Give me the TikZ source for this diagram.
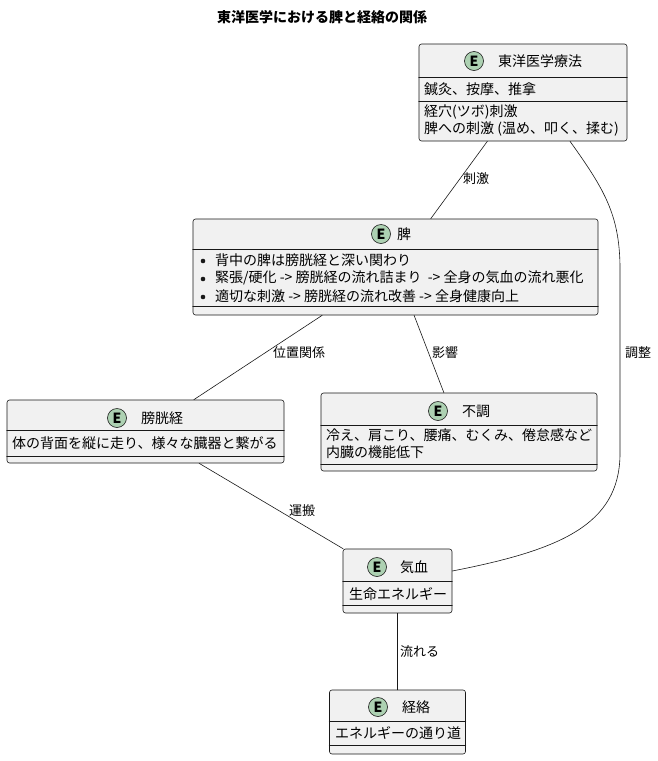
\documentclass[tikz,border=0pt]{standalone}
\usepackage{fontspec}
\setmainfont{Noto Sans CJK JP}
\usetikzlibrary{calc}

\definecolor{boxfill}{HTML}{F1F1F1}
\definecolor{boxline}{HTML}{181818}
\definecolor{ecolor}{HTML}{ADD1B2}

\tikzset{
  ent/.style={draw=boxline,fill=boxfill,rounded corners=2.5pt,line width=0.6pt,inner sep=0pt},
  ecirc/.style={circle,draw=boxline,fill=ecolor,line width=0.6pt,minimum size=19pt,inner sep=0pt,font=\bfseries\fontsize{14}{14}\selectfont},
  ttl/.style={anchor=west,inner sep=0pt,font=\fontsize{14}{17}\selectfont},
  txt/.style={anchor=west,inner sep=0pt,align=left,font=\fontsize{14}{17}\selectfont},
  lbl/.style={anchor=west,inner sep=0pt,font=\fontsize{13}{15}\selectfont},
  rel/.style={draw=boxline,line width=0.6pt}
}

\begin{document}
\begin{tikzpicture}[line cap=round,line join=round,x=1pt,y=-1pt]
\useasboundingbox (0,0) rectangle (658,761);
\node[inner sep=0pt,font=\bfseries\fontsize{14}{14}\selectfont] (title) at (322,17) {東洋医学における脾と経絡の関係};

% entities
\node[ent,minimum width=208pt,minimum height=97pt] (ryoho) at (523,92.5) {};
\node[ent,minimum width=405pt,minimum height=96pt] (hi) at (395.5,267) {};
\node[ent,minimum width=277pt,minimum height=63pt] (bokokei) at (145.5,431.5) {};
\node[ent,minimum width=276pt,minimum height=78pt] (fucho) at (459,432) {};
\node[ent,minimum width=109pt,minimum height=64pt] (kiketsu) at (397.5,581) {};
\node[ent,minimum width=136pt,minimum height=64pt] (keiraku) at (397.5,722) {};

% separators
\draw[boxline,line width=0.6pt] (ryoho.west |- 0,77) -- (ryoho.east |- 0,77);
\draw[boxline,line width=0.6pt] (ryoho.west |- 0,101) -- (ryoho.east |- 0,101);
\draw[boxline,line width=0.6pt] (hi.west |- 0,249) -- (hi.east |- 0,249);
\draw[boxline,line width=0.6pt] (hi.west |- 0,306) -- (hi.east |- 0,306);
\draw[boxline,line width=0.6pt] (bokokei.west |- 0,430) -- (bokokei.east |- 0,430);
\draw[boxline,line width=0.6pt] (bokokei.west |- 0,456) -- (bokokei.east |- 0,456);
\draw[boxline,line width=0.6pt] (fucho.west |- 0,425) -- (fucho.east |- 0,425);
\draw[boxline,line width=0.6pt] (fucho.west |- 0,464) -- (fucho.east |- 0,464);
\draw[boxline,line width=0.6pt] (kiketsu.west |- 0,581) -- (kiketsu.east |- 0,581);
\draw[boxline,line width=0.6pt] (kiketsu.west |- 0,605) -- (kiketsu.east |- 0,605);
\draw[boxline,line width=0.6pt] (keiraku.west |- 0,721) -- (keiraku.east |- 0,721);
\draw[boxline,line width=0.6pt] (keiraku.west |- 0,745) -- (keiraku.east |- 0,745);

% headers
\node[ecirc] (ryohoE) at (474,61) {E};
\node[ttl] (ryohoT) at (498,61) {東洋医学療法};
\node[ecirc] (hiE) at (381,234) {E};
\node[ttl] (hiT) at (397,234) {脾};
\node[ecirc] (bokokeiE) at (117,418) {E};
\node[ttl] (bokokeiT) at (141,418) {膀胱経};
\node[ecirc] (fuchoE) at (438,411) {E};
\node[ttl] (fuchoT) at (462,411) {不調};
\node[ecirc] (kiketsuE) at (377,567) {E};
\node[ttl] (kiketsuT) at (400,567) {気血};
\node[ecirc] (keirakuE) at (378,707) {E};
\node[ttl] (keirakuT) at (402,707) {経絡};

% fields
\node[txt] (ryohoF1) at (424,89) {鍼灸、按摩、推拿};
\node[txt] (ryohoF2) at (424,120.5) {経穴(ツボ)刺激\\脾への刺激 (温め、叩く、揉む)};
\fill[boxline] (203,261) circle (2.3pt);
\fill[boxline] (203,279) circle (2.3pt);
\fill[boxline] (203,297) circle (2.3pt);
\node[txt] (hiF1) at (215,260) {背中の脾は膀胱経と深い関わり};
\node[txt] (hiF2) at (215,278) {緊張/硬化 -> 膀胱経の流れ詰まり\ \ -> 全身の気血の流れ悪化};
\node[txt] (hiF3) at (215,296) {適切な刺激 -> 膀胱経の流れ改善 -> 全身健康向上};
\node[txt] (bokokeiF) at (12,443) {体の背面を縦に走り、様々な臓器と繋がる};
\node[txt] (fuchoF) at (326,444) {冷え、肩こり、腰痛、むくみ、倦怠感など\\内臓の機能低下};
\node[txt] (kiketsuF) at (349,594) {生命エネルギー};
\node[txt] (keirakuF) at (335,733) {エネルギーの通り道};

% relations
\draw[rel] (ryoho) -- (hi);
\draw[rel] (hi) -- (bokokei);
\draw[rel] (hi) -- (fucho);
\draw[rel] (bokokei) -- (kiketsu);
\draw[rel] (kiketsu) -- (keiraku);
\draw[rel] ([xshift=47pt]ryoho.south) .. controls (605,190) and (619,215) .. (620,265)
  -- (620,455) .. controls (619,525) and (560,550) .. ([yshift=10pt]kiketsu.east);

\node[lbl] (l1) at (463,179) {刺激};
\node[lbl] (l2) at (273,353) {位置関係};
\node[lbl] (l3) at (432,353) {影響};
\node[lbl] (l4) at (625,353) {調整};
\node[lbl] (l5) at (289,511) {運搬};
\node[lbl] (l6) at (400,652) {流れる};
\end{tikzpicture}
\end{document}
